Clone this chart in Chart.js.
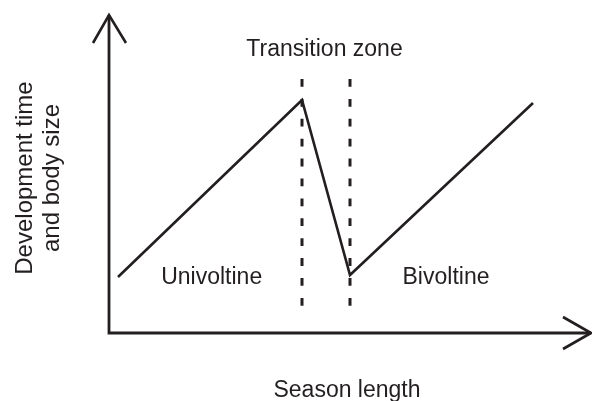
<!DOCTYPE html>
<html>
<head>
<meta charset="utf-8">
<script src="https://cdn.jsdelivr.net/npm/chart.js@4/dist/chart.umd.min.js"></script>
<style>
  html, body { margin: 0; padding: 0; background: #fff; }
  #wrap { width: 592px; height: 401px; }
</style>
</head>
<body>
<div id="wrap"><canvas id="c" width="592" height="401"></canvas></div>
<script>
// Schematic data (arbitrary units; origin = where the axes meet)
const curveX = [9, 193, 241, 424];
const curveY = [56, 233, 58, 230];
const zoneBoundsX = [193, 241];
const zoneDashY = [254, 27.2];
const axisXEnd = 482;
const axisYEnd = 318;
const labels = ["Transition zone", "Univoltine", "Bivoltine"];
const labelX = [215.5, 102.7, 337];
const labelY = [277, 49, 49];
const xTitle = "Season length";
const yTitle = ["Development time", "and body size"];

const ink = "#231f20";
const FONT = '23px "Liberation Sans", Arial, sans-serif';
const YFONT = '24px "Liberation Sans", Arial, sans-serif';

const datasets = [];
datasets.push({
  data: curveX.map((x, i) => ({ x, y: curveY[i] })),
  borderColor: ink, borderWidth: 2.6, pointRadius: 0, fill: false, tension: 0,
  borderJoinStyle: 'miter', borderCapStyle: 'butt'
});
zoneBoundsX.forEach(x => {
  datasets.push({
    data: zoneDashY.map(y => ({ x, y })),
    borderColor: ink, borderWidth: 3, borderDash: [7.8, 12.1], pointRadius: 0, fill: false
  });
});
// axes
datasets.push({ data: [{x: 0, y: axisYEnd}, {x: 0, y: 0}, {x: axisXEnd, y: 0}],
  borderColor: ink, borderWidth: 2.8, pointRadius: 0, fill: false, borderJoinStyle: 'miter' });
datasets.push({ data: [{x: -16, y: axisYEnd - 28}, {x: 0, y: axisYEnd}, {x: 17, y: axisYEnd - 28}],
  borderColor: ink, borderWidth: 2.6, pointRadius: 0, fill: false, borderJoinStyle: 'miter' });
datasets.push({ data: [{x: axisXEnd - 28, y: 16}, {x: axisXEnd, y: 0}, {x: axisXEnd - 28, y: -16}],
  borderColor: ink, borderWidth: 2.6, pointRadius: 0, fill: false, borderJoinStyle: 'miter' });

const textPlugin = {
  id: 'texts',
  afterDatasetsDraw(chart) {
    const { ctx, scales: { x, y } } = chart;
    ctx.save();
    ctx.fillStyle = ink;
    ctx.font = FONT;
    ctx.textAlign = 'center';
    ctx.textBaseline = 'alphabetic';
    labels.forEach((t, i) => ctx.fillText(t, x.getPixelForValue(labelX[i]), y.getPixelForValue(labelY[i])));
    ctx.fillText(xTitle, x.getPixelForValue(axisXEnd / 2 - 3), y.getPixelForValue(-64));
    ctx.font = YFONT;
    ctx.translate(x.getPixelForValue(-77), y.getPixelForValue(155));
    ctx.rotate(-Math.PI / 2);
    ctx.fillText(yTitle[0], 0, 0);
    ctx.fillText(yTitle[1], 0, 26.5);
    ctx.restore();
  }
};

new Chart(document.getElementById('c'), {
  type: 'line',
  data: { datasets },
  options: {
    responsive: false,
    animation: false,
    events: [],
    layout: { padding: 0 },
    plugins: { legend: { display: false }, tooltip: { enabled: false }, title: { display: false } },
    scales: {
      x: { type: 'linear', min: -109, max: 483, display: false },
      y: { type: 'linear', min: -68, max: 333, display: false }
    },
    elements: { line: { clip: false } }
  },
  plugins: [textPlugin]
});
</script>
</body>
</html>
